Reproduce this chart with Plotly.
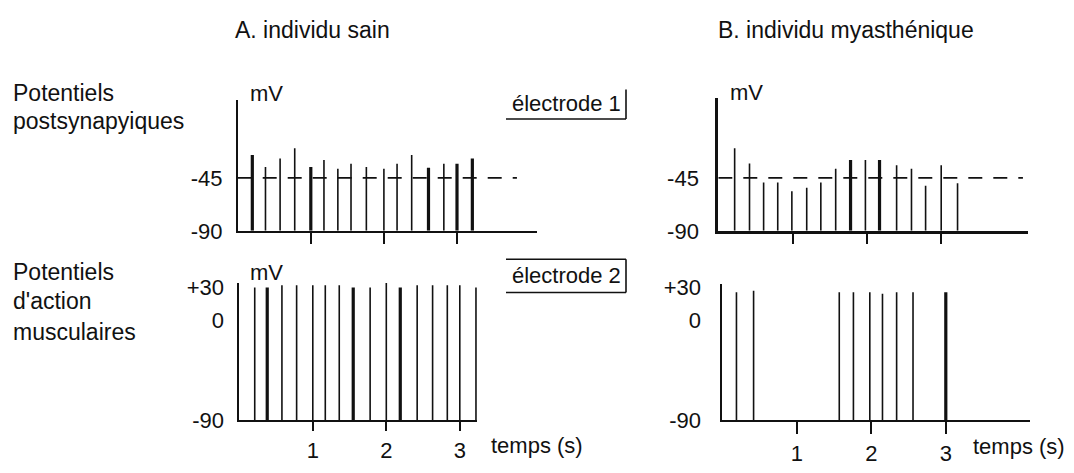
import plotly.graph_objects as go

W, H = 1074, 473

# ---------------- DATA ----------------
BASE = -90          # resting potential (mV)
THRESHOLD = -45     # threshold (mV)

# A. individu sain - potentiels postsynaptiques (électrode 1)
tA_psp = [0.20, 0.38, 0.58, 0.78, 1.00, 1.18, 1.37, 1.55, 1.76, 2.00, 2.18, 2.38, 2.61, 2.82, 3.00, 3.21]
vA_psp = [-25.6, -35.8, -28.5, -19.9, -35.8, -29.9, -37.2, -32.9, -35.8, -37.2, -32.9, -25.6, -36.4, -32.9, -32.9, -28.5]

# A. individu sain - potentiels d'action musculaires (électrode 2)
tA_pa = [0.21, 0.38, 0.58, 0.78, 1.00, 1.17, 1.36, 1.55, 1.78, 2.00, 2.19, 2.42, 2.63, 2.83, 3.00, 3.22]
vA_pa = [30, 30, 32, 32, 32, 32, 32, 30, 30, 34, 30, 32, 32, 32, 32, 30]

# B. individu myasthénique - potentiels postsynaptiques
tB_psp = [0.22, 0.42, 0.61, 0.80, 0.99, 1.19, 1.38, 1.58, 1.78, 1.98, 2.17, 2.40, 2.60, 2.79, 3.00, 3.22]
vB_psp = [-19.9, -32.9, -49.0, -49.0, -56.3, -53.3, -49.0, -37.2, -29.9, -29.9, -29.9, -34.2, -37.2, -51.7, -34.2, -49.6]

# B. individu myasthénique - potentiels d'action musculaires
tB_pa = [0.19, 0.42, 1.57, 1.76, 1.98, 2.15, 2.34, 2.56, 3.00]
vB_pa = [25.7, 27.1, 25.7, 25.7, 25.7, 24.3, 25.7, 25.7, 25.7]

time_ticks = [1, 2, 3]
time_labels = ["1", "2", "3"]
psp_ticks = [-90, -45]
psp_labels = ["-90", "-45"]
pa_ticks = [-90, 0, 30]
pa_labels = ["-90", "0", "+30"]

# ---------------- STYLE ----------------
THICK_A_PSP = [0, 4, 12, 14, 15]
THICK_A_PA = [1, 7, 10]
THICK_B_PSP = [8, 10]
THICK_B_PA = [8]

FONT = "Liberation Sans, Arial, sans-serif"
FS = 22
FS_TXT = 23
INK = "#111111"
OFF = 8   # default page margin of the html body


def px_x(p):
    return (p - OFF) / W


def px_y(p):
    return 1 - (p - OFF) / H


def spikes(ts, vs, idx, thick):
    xs, ys = [], []
    for i, (t, v) in enumerate(zip(ts, vs)):
        if (i in idx) == thick:
            xs += [t, t, None]
            ys += [BASE, v, None]
    return xs, ys


fig = go.Figure()

panels = [
    ("1", tA_psp, vA_psp, THICK_A_PSP),
    ("2", tA_pa, vA_pa, THICK_A_PA),
    ("3", tB_psp, vB_psp, THICK_B_PSP),
    ("4", tB_pa, vB_pa, THICK_B_PA),
]
for name, ts, vs, idx in panels:
    xa = "x" if name == "1" else "x" + name
    ya = "y" if name == "1" else "y" + name
    for thick in (False, True):
        xs, ys = spikes(ts, vs, idx, thick)
        if xs:
            fig.add_trace(go.Scatter(x=xs, y=ys, mode="lines", xaxis=xa, yaxis=ya,
                                     line=dict(color=INK, width=3.2 if thick else 1.6),
                                     hoverinfo="skip", showlegend=False))

# threshold dashed lines
fig.add_trace(go.Scatter(x=[0, 3.82], y=[THRESHOLD, THRESHOLD], mode="lines", xaxis="x", yaxis="y",
                         line=dict(color=INK, width=1.6, dash="14px,11px"), hoverinfo="skip", showlegend=False))
fig.add_trace(go.Scatter(x=[0, 4.10], y=[THRESHOLD, THRESHOLD], mode="lines", xaxis="x3", yaxis="y3",
                         line=dict(color=INK, width=1.6, dash="14px,11px"), hoverinfo="skip", showlegend=False))


def xaxis(d0, d1, r1, labels, lw, ticklen, anchor):
    return dict(domain=[px_x(d0), px_x(d1)], range=[0, r1], anchor=anchor,
                showgrid=False, zeroline=False, showline=True, linecolor=INK, linewidth=lw,
                ticks="outside", ticklen=ticklen, tickwidth=1.6, tickcolor=INK,
                tickvals=time_ticks, ticktext=time_labels if labels else ["", "", ""],
                tickfont=dict(family=FONT, size=FS, color=INK), fixedrange=True)


def yaxis(top, bottom, r0, r1, tv, tt, lw, anchor, standoff):
    return dict(domain=[px_y(bottom), px_y(top)], range=[r0, r1], anchor=anchor,
                showgrid=False, zeroline=False, showline=True, linecolor=INK, linewidth=lw,
                ticks="", tickvals=tv, ticktext=tt, ticklabelstandoff=standoff,
                tickfont=dict(family=FONT, size=FS, color=INK), fixedrange=True)


fig.update_layout(
    width=W, height=H, margin=dict(l=0, r=0, t=0, b=0),
    paper_bgcolor="white", plot_bgcolor="white", showlegend=False,
    xaxis=xaxis(237.7, 537, (537 - 237.7) / 73.1, False, 1.6, 11, "y"),
    yaxis=yaxis(95, 232.3, -90, 21.2, psp_ticks, psp_labels, 1.6, "x", 9),
    xaxis2=xaxis(239.3, 477, (477 - 239.3) / 73.5, True, 1.6, 9, "y2"),
    yaxis2=yaxis(287, 431, -90, 34, pa_ticks, pa_labels, 1.6, "x2", 9),
    xaxis3=xaxis(718.3, 1028, (1028 - 718.3) / 74.3, False, 3, 10, "y3"),
    yaxis3=yaxis(93.3, 232.3, -90, 22.5, psp_ticks, psp_labels, 3, "x3", 12),
    xaxis4=xaxis(722.3, 1030, (1030 - 722.3) / 74.5, True, 1.6, 12, "y4"),
    yaxis4=yaxis(288.3, 431, -90, 32.9, pa_ticks, pa_labels, 1.6, "x4", 15),
)


def label(text, x, y, size=FS_TXT, xanchor="left"):
    fig.add_annotation(text=text, x=px_x(x), y=px_y(y), xref="paper", yref="paper",
                       xanchor=xanchor, yanchor="middle", showarrow=False, borderpad=0,
                       font=dict(family=FONT, size=size, color=INK))


label("A. individu sain", 234, 22)
label("B. individu myasthénique", 717, 22)
label("Potentiels", 12, 88)
label("postsynapyiques", 12, 117)
label("Potentiels", 12, 275)
label("d'action", 12, 306)
label("musculaires", 12, 338)
label("mV", 249, 88, FS)
label("mV", 729, 87, FS)
label("mV", 249, 276, FS)
label("électrode 1", 511, 99, FS)
label("électrode 2", 511, 279, FS)
label("temps (s)", 490, 457, FS)
label("temps (s)", 972, 458, FS)

# electrode frames
BOX_R = 626


def seg(x0, y0, x1, y1):
    fig.add_shape(type="line", xref="paper", yref="paper",
                  x0=px_x(x0), y0=px_y(y0), x1=px_x(x1), y1=px_y(y1),
                  line=dict(color=INK, width=1.6))


seg(506, 115, BOX_R, 115)
seg(BOX_R, 84, BOX_R, 115)
seg(506, 262, BOX_R, 262)
seg(506, 297, BOX_R, 297)
seg(BOX_R, 262, BOX_R, 297)

fig.write_html("out.html")
